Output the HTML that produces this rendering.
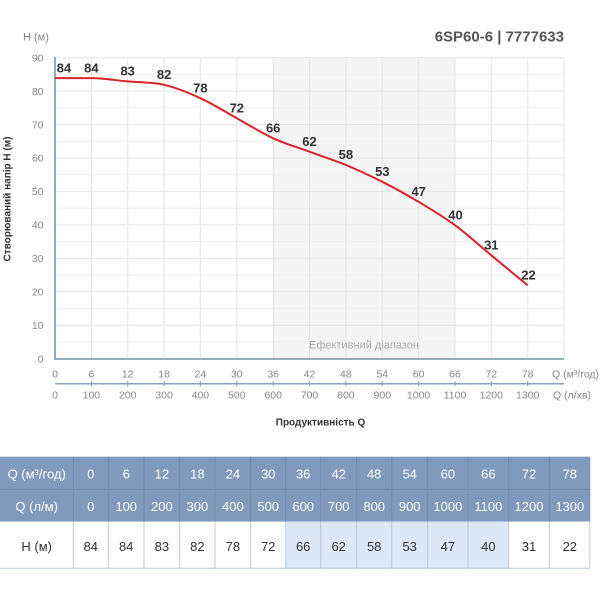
<!DOCTYPE html>
<html><head><meta charset="utf-8"><style>
html,body{margin:0;padding:0;background:#fff;}
svg{display:block;font-family:"Liberation Sans",sans-serif;}
</style></head><body>
<svg width="600" height="600" viewBox="0 0 600 600" xmlns="http://www.w3.org/2000/svg">
<!-- title -->
<text x="564" y="41.5" text-anchor="end" font-size="15" font-weight="bold" fill="#555">6SP60-6 | 7777633</text>
<text x="23" y="40.5" font-size="11" fill="#888">H (м)</text>
<!-- shaded efficiency range -->
<rect x="273.2" y="57.7" width="181.8" height="301.3" fill="#f4f4f4"/>
<!-- minor grid -->
<g stroke="#f0f0f0" stroke-width="1">
<line x1="55" x2="564" y1="74.4" y2="74.4"/><line x1="55" x2="564" y1="107.8" y2="107.8"/>
<line x1="55" x2="564" y1="141.3" y2="141.3"/><line x1="55" x2="564" y1="174.7" y2="174.7"/>
<line x1="55" x2="564" y1="208.2" y2="208.2"/><line x1="55" x2="564" y1="241.6" y2="241.6"/>
<line x1="55" x2="564" y1="275.1" y2="275.1"/><line x1="55" x2="564" y1="308.5" y2="308.5"/>
<line x1="55" x2="564" y1="342.0" y2="342.0"/>
</g>
<!-- major grid -->
<g stroke="#e4e4e4" stroke-width="1">
<line x1="55" x2="564" y1="57.7" y2="57.7"/><line x1="55" x2="564" y1="91.1" y2="91.1"/>
<line x1="55" x2="564" y1="124.6" y2="124.6"/><line x1="55" x2="564" y1="158.0" y2="158.0"/>
<line x1="55" x2="564" y1="191.4" y2="191.4"/><line x1="55" x2="564" y1="224.9" y2="224.9"/>
<line x1="55" x2="564" y1="258.3" y2="258.3"/><line x1="55" x2="564" y1="291.8" y2="291.8"/>
<line x1="55" x2="564" y1="325.2" y2="325.2"/>
<line y1="57.7" y2="359" x1="91.4" x2="91.4"/><line y1="57.7" y2="359" x1="127.7" x2="127.7"/>
<line y1="57.7" y2="359" x1="164.1" x2="164.1"/><line y1="57.7" y2="359" x1="200.4" x2="200.4"/>
<line y1="57.7" y2="359" x1="236.8" x2="236.8"/><line y1="57.7" y2="359" x1="273.2" x2="273.2"/>
<line y1="57.7" y2="359" x1="309.5" x2="309.5"/><line y1="57.7" y2="359" x1="345.9" x2="345.9"/>
<line y1="57.7" y2="359" x1="382.3" x2="382.3"/><line y1="57.7" y2="359" x1="418.6" x2="418.6"/>
<line y1="57.7" y2="359" x1="455.0" x2="455.0"/><line y1="57.7" y2="359" x1="491.3" x2="491.3"/>
<line y1="57.7" y2="359" x1="527.7" x2="527.7"/><line y1="57.7" y2="359" x1="564" x2="564"/>
</g>
<text x="364" y="348.5" text-anchor="middle" font-size="11" fill="#aaa">Ефективний діапазон</text>
<!-- axes -->
<line x1="55" y1="57" x2="55" y2="359.8" stroke="#86a2b4" stroke-width="1.8"/>
<line x1="54.1" y1="359" x2="564" y2="359" stroke="#86a2b4" stroke-width="1.8"/>
<line x1="55" y1="383.7" x2="564" y2="383.7" stroke="#8aa4b5" stroke-width="1.5"/>
<g stroke="#8aa4b5" stroke-width="1.2">
<line x1="91.4" x2="91.4" y1="381.2" y2="386.2"/><line x1="127.7" x2="127.7" y1="381.2" y2="386.2"/>
<line x1="164.1" x2="164.1" y1="381.2" y2="386.2"/><line x1="200.4" x2="200.4" y1="381.2" y2="386.2"/>
<line x1="236.8" x2="236.8" y1="381.2" y2="386.2"/><line x1="273.2" x2="273.2" y1="381.2" y2="386.2"/>
<line x1="309.5" x2="309.5" y1="381.2" y2="386.2"/><line x1="345.9" x2="345.9" y1="381.2" y2="386.2"/>
<line x1="382.3" x2="382.3" y1="381.2" y2="386.2"/><line x1="418.6" x2="418.6" y1="381.2" y2="386.2"/>
<line x1="455.0" x2="455.0" y1="381.2" y2="386.2"/><line x1="491.3" x2="491.3" y1="381.2" y2="386.2"/>
<line x1="527.7" x2="527.7" y1="381.2" y2="386.2"/>
</g>
<!-- y tick labels -->
<g font-size="10.5" fill="#888" text-anchor="end">
<text x="43.5" y="61.4">90</text><text x="43.5" y="94.8">80</text><text x="43.5" y="128.3">70</text>
<text x="43.5" y="161.7">60</text><text x="43.5" y="195.1">50</text><text x="43.5" y="228.6">40</text>
<text x="43.5" y="262.0">30</text><text x="43.5" y="295.5">20</text><text x="43.5" y="328.9">10</text>
<text x="43.5" y="362.7">0</text>
</g>
<!-- x tick labels row 1 -->
<g font-size="10.5" fill="#888" text-anchor="middle">
<text x="55" y="377.7">0</text><text x="91.4" y="377.7">6</text><text x="127.7" y="377.7">12</text>
<text x="164.1" y="377.7">18</text><text x="200.4" y="377.7">24</text><text x="236.8" y="377.7">30</text>
<text x="273.2" y="377.7">36</text><text x="309.5" y="377.7">42</text><text x="345.9" y="377.7">48</text>
<text x="382.3" y="377.7">54</text><text x="418.6" y="377.7">60</text><text x="455.0" y="377.7">66</text>
<text x="491.3" y="377.7">72</text><text x="527.7" y="377.7">78</text>
<text x="55" y="398.4">0</text><text x="91.4" y="398.4">100</text><text x="127.7" y="398.4">200</text>
<text x="164.1" y="398.4">300</text><text x="200.4" y="398.4">400</text><text x="236.8" y="398.4">500</text>
<text x="273.2" y="398.4">600</text><text x="309.5" y="398.4">700</text><text x="345.9" y="398.4">800</text>
<text x="382.3" y="398.4">900</text><text x="418.6" y="398.4">1000</text><text x="455.0" y="398.4">1100</text>
<text x="491.3" y="398.4">1200</text><text x="527.7" y="398.4">1300</text>
</g>
<text x="552" y="377.7" font-size="10.5" fill="#888">Q (м³/год)</text>
<text x="553" y="398.4" font-size="10.5" fill="#888">Q (л/хв)</text>
<text x="320.5" y="425.5" text-anchor="middle" font-size="10" font-weight="bold" fill="#333">Продуктивність Q</text>
<text transform="translate(10.5,199) rotate(-90)" text-anchor="middle" font-size="10" font-weight="bold" fill="#333">Створюваний напір H (м)</text>
<!-- curve -->
<path d="M55,78.1 C67.1,78.1 79.3,78.1 91.4,78.1 C103.5,78.1 115.6,80.3 127.7,81.4 C139.8,82.5 152.0,82.0 164.1,84.8 C176.2,87.6 188.3,92.6 200.4,98.2 C212.5,103.8 224.7,111.5 236.8,118.2 C248.9,124.9 261.1,132.7 273.2,138.3 C285.3,143.9 297.4,147.2 309.5,151.7 C321.6,156.2 333.8,160.0 345.9,165.0 C358.0,170.0 370.2,175.7 382.3,181.8 C394.4,187.9 406.5,194.6 418.6,201.8 C430.7,209.0 442.9,216.3 455.0,225.2 C467.1,234.1 479.2,245.3 491.3,255.3 C503.4,265.3 515.6,275.4 527.7,285.4" fill="none" stroke="#d9232b" stroke-width="2"/>
<!-- data labels -->
<g font-size="13" font-weight="bold" fill="#333" text-anchor="middle">
<text x="64" y="72.3">84</text><text x="91.4" y="72.3">84</text><text x="127.7" y="75.6">83</text>
<text x="164.1" y="79">82</text><text x="200.4" y="92.4">78</text><text x="236.8" y="112.4">72</text>
<text x="273.2" y="132.5">66</text><text x="309.5" y="146">62</text><text x="345.9" y="159.2">58</text>
<text x="382.3" y="176">53</text><text x="418.6" y="196">47</text><text x="455.5" y="219.4">40</text>
<text x="491.3" y="249.5">31</text><text x="528.5" y="279.6">22</text>
</g>
<!-- table -->
<rect x="0" y="456.7" width="590.3" height="65" fill="#7f9aba"/>
<rect x="0" y="521.7" width="590.3" height="47" fill="#fff"/>
<rect x="285.7" y="521.7" width="223" height="47" fill="#dce8f7"/>
<g stroke="#6f8aa9" stroke-width="1">
<line x1="0" x2="590.3" y1="489.3" y2="489.3"/>
<line x1="73.3" x2="73.3" y1="456.7" y2="521.7"/><line x1="108.3" x2="108.3" y1="456.7" y2="521.7"/>
<line x1="144" x2="144" y1="456.7" y2="521.7"/><line x1="179.7" x2="179.7" y1="456.7" y2="521.7"/>
<line x1="215" x2="215" y1="456.7" y2="521.7"/><line x1="250.7" x2="250.7" y1="456.7" y2="521.7"/>
<line x1="285.7" x2="285.7" y1="456.7" y2="521.7"/><line x1="320.7" x2="320.7" y1="456.7" y2="521.7"/>
<line x1="356.7" x2="356.7" y1="456.7" y2="521.7"/><line x1="391.7" x2="391.7" y1="456.7" y2="521.7"/>
<line x1="427.7" x2="427.7" y1="456.7" y2="521.7"/><line x1="468" x2="468" y1="456.7" y2="521.7"/>
<line x1="508.7" x2="508.7" y1="456.7" y2="521.7"/><line x1="549.3" x2="549.3" y1="456.7" y2="521.7"/>
</g>
<g stroke="#bcc8d6" stroke-width="1">
<line x1="0" x2="590.3" y1="568.2" y2="568.2"/><line x1="589.8" x2="589.8" y1="521.7" y2="568.7"/>
<line x1="73.3" x2="73.3" y1="521.7" y2="568.7"/><line x1="108.3" x2="108.3" y1="521.7" y2="568.7"/>
<line x1="144" x2="144" y1="521.7" y2="568.7"/><line x1="179.7" x2="179.7" y1="521.7" y2="568.7"/>
<line x1="215" x2="215" y1="521.7" y2="568.7"/><line x1="250.7" x2="250.7" y1="521.7" y2="568.7"/>
<line x1="285.7" x2="285.7" y1="521.7" y2="568.7"/><line x1="320.7" x2="320.7" y1="521.7" y2="568.7"/>
<line x1="356.7" x2="356.7" y1="521.7" y2="568.7"/><line x1="391.7" x2="391.7" y1="521.7" y2="568.7"/>
<line x1="427.7" x2="427.7" y1="521.7" y2="568.7"/><line x1="468" x2="468" y1="521.7" y2="568.7"/>
<line x1="508.7" x2="508.7" y1="521.7" y2="568.7"/><line x1="549.3" x2="549.3" y1="521.7" y2="568.7"/>
</g>
<g font-size="13" fill="#fff" text-anchor="middle">
<text x="36.7" y="478.5">Q (м³/год)</text>
<text x="90.8" y="478.5">0</text><text x="126.2" y="478.5">6</text><text x="161.9" y="478.5">12</text>
<text x="197.4" y="478.5">18</text><text x="232.9" y="478.5">24</text><text x="268.2" y="478.5">30</text>
<text x="303.2" y="478.5">36</text><text x="338.7" y="478.5">42</text><text x="374.2" y="478.5">48</text>
<text x="409.7" y="478.5">54</text><text x="447.9" y="478.5">60</text><text x="488.4" y="478.5">66</text>
<text x="529" y="478.5">72</text><text x="569.8" y="478.5">78</text>
<text x="36.7" y="511.2">Q (л/м)</text>
<text x="90.8" y="511.2">0</text><text x="126.2" y="511.2">100</text><text x="161.9" y="511.2">200</text>
<text x="197.4" y="511.2">300</text><text x="232.9" y="511.2">400</text><text x="268.2" y="511.2">500</text>
<text x="303.2" y="511.2">600</text><text x="338.7" y="511.2">700</text><text x="374.2" y="511.2">800</text>
<text x="409.7" y="511.2">900</text><text x="447.9" y="511.2">1000</text><text x="488.4" y="511.2">1100</text>
<text x="529" y="511.2">1200</text><text x="569.8" y="511.2">1300</text>
</g>
<g font-size="13" fill="#333" text-anchor="middle">
<text x="36.7" y="551.2">H (м)</text>
<text x="90.8" y="551.2">84</text><text x="126.2" y="551.2">84</text><text x="161.9" y="551.2">83</text>
<text x="197.4" y="551.2">82</text><text x="232.9" y="551.2">78</text><text x="268.2" y="551.2">72</text>
<text x="303.2" y="551.2">66</text><text x="338.7" y="551.2">62</text><text x="374.2" y="551.2">58</text>
<text x="409.7" y="551.2">53</text><text x="447.9" y="551.2">47</text><text x="488.4" y="551.2">40</text>
<text x="529" y="551.2">31</text><text x="569.8" y="551.2">22</text>
</g>
</svg>
</body></html>
